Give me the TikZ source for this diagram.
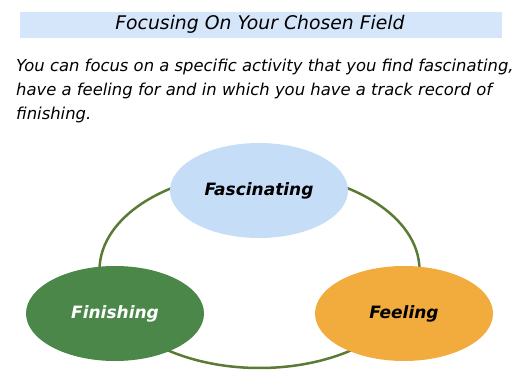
\documentclass[tikz,border=0pt]{standalone}
\usepackage{fontspec}
\setmainfont{DejaVu Sans}
\usetikzlibrary{shapes.geometric}
\definecolor{bandblue}{HTML}{D6E6FA}
\definecolor{skyfill}{HTML}{C6DDF8}
\definecolor{leafgreen}{HTML}{4A8748}
\definecolor{sunorange}{HTML}{F2AC3E}
\definecolor{ringgreen}{HTML}{5B7A34}
\begin{document}
\begin{tikzpicture}[x=1pt, y=-1pt, every node/.style={font=\itshape},
  bubble/.style={ellipse, minimum width=178pt, minimum height=95pt, inner sep=0pt,
    font=\fontsize{17}{20}\selectfont\bfseries\itshape}]
\useasboundingbox (0,0) rectangle (520,390);
\fill[bandblue] (20,12) rectangle (502,38);
\node[font=\fontsize{18.8}{22}\selectfont\itshape] (title) at (260,24.5) {Focusing On Your Chosen Field};
\node[anchor=north west, align=left, inner sep=0pt, font=\fontsize{16.4}{24}\selectfont\itshape] (intro) at (16,59)
  {You can focus on a specific activity that you find fascinating,\\
   have a feeling for and in which you have a track record of\\
   finishing.};
% ring behind the three bubbles
\node[draw=ringgreen, line width=2.5pt, ellipse, minimum width=320pt, minimum height=196pt] (ring) at (259.5,270) {};
\node[bubble, fill=skyfill] (fasc) at (259,190.5) {Fascinating};
\node[bubble, fill=sunorange] (feel) at (404,313.5) {Feeling};
\node[bubble, fill=leafgreen, text=white] (finish) at (115,313.5) {Finishing};
\end{tikzpicture}
\end{document}
